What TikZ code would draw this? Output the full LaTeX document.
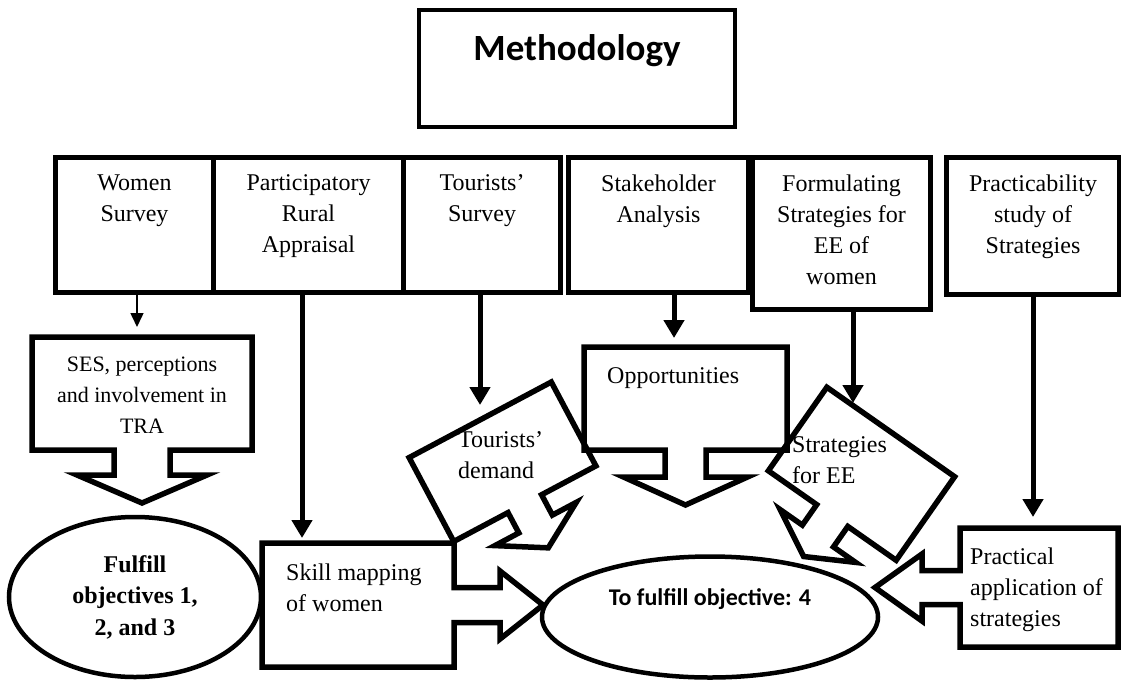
\documentclass[tikz,border=0pt]{standalone}
\usepackage{fontspec}
\setmainfont{Liberation Serif}
\newfontfamily\calibri{Carlito}
\usetikzlibrary{arrows.meta,shapes.geometric}

\newcommand{\arrowcallout}[6]{%
  \draw[cbox] (-#1/2,-#2/2) -- (#1/2,-#2/2) -- (#1/2,#2/2) -- (#3/2,#2/2)
    -- (#3/2,#2/2+#4) -- (#5/2,#2/2+#4) -- (0,#2/2+#4+#6) -- (-#5/2,#2/2+#4)
    -- (-#3/2,#2/2+#4) -- (-#3/2,#2/2) -- (-#1/2,#2/2) -- cycle;}

\tikzset{
  mbox/.style={draw, line width=5pt, inner sep=0pt, anchor=north west},
  toptext/.style={anchor=north, align=center, inner sep=0pt, yshift=-19.5pt},
  cbox/.style={draw, line width=5.5pt, miter limit=25},
  intext/.style={anchor=north west, align=left, inner sep=0pt},
  oval/.style={draw, ellipse, line width=4.5pt, inner sep=0pt},
  bigarr/.style={line width=5pt, -{Triangle[width=20pt,length=18pt]}},
  thinarr/.style={line width=1.5pt, -{Triangle[width=13pt,length=14pt]}}
}

\begin{document}
\begin{tikzpicture}[x=1pt, y=-1pt, execute at begin picture={\fontsize{24}{31}\selectfont}]
    \useasboundingbox (0,0) rectangle (1121,683);
    \node[mbox, line width=4pt, minimum width=316pt, minimum height=117pt,
      label={[toptext, yshift=-7pt, font=\calibri\bfseries\fontsize{37}{40}\selectfont]north:Methodology}] (meth) at (417,8) {};

    \node[mbox, minimum width=158pt, minimum height=135pt, label={[toptext]north:Women\\Survey}] (women) at (53,155) {};
    \node[mbox, minimum width=190pt, minimum height=135pt, label={[toptext]north:Participatory\\Rural\\Appraisal}] (pra) at (211,155) {};
    \node[mbox, minimum width=157pt, minimum height=135pt, label={[toptext]north:Tourists’\\Survey}] (tours) at (401,155) {};
    \node[mbox, minimum width=180pt, minimum height=135pt, label={[toptext]north:Stakeholder\\Analysis}] (stake) at (566,155) {};
    \node[mbox, minimum width=178pt, minimum height=152pt, label={[toptext]north:Formulating\\Strategies for\\EE of\\women}] (form) at (750,155) {};
    \node[mbox, minimum width=173pt, minimum height=137pt, label={[toptext]north:Practicability\\study of\\Strategies}] (pract) at (944,155) {};

    \begin{scope}[shift={(142,393.5)}]
      \arrowcallout{220}{113}{56}{25}{130}{28}
    \end{scope}
    \node[align=center, font=\fontsize{22}{31}\selectfont] (ses) at (142,395) {SES, perceptions\\and involvement in\\TRA};

    \begin{scope}[shift={(502.5,461.75)}, rotate=28]
      \arrowcallout{161}{95}{38}{23}{92}{27}
    \end{scope}
    \node[intext] (tdem) at (458,431) {Tourists’\\demand};

    \begin{scope}[shift={(685.5,398.5)}]
      \arrowcallout{203}{103}{41}{27}{124}{28}
    \end{scope}
    \node[intext] (opp) at (607,367) {Opportunities};

    \begin{scope}[shift={(861.5,473.75)}, rotate=-35]
      \arrowcallout{156}{102}{38}{25}{92}{25}
    \end{scope}
    \node[intext] (sfee) at (792,436) {Strategies\\for EE};

    \begin{scope}[shift={(358,605)}, rotate=90]
      \arrowcallout{124}{192}{35}{46}{68}{43}
    \end{scope}
    \node[intext] (skill) at (286,564) {Skill mapping\\of women};

    \begin{scope}[shift={(1039,587.5)}, rotate=-90]
      \arrowcallout{119}{158}{34}{38}{67}{47}
    \end{scope}
    \node[intext] (papp) at (970,548) {Practical\\application of\\strategies};

    \node[oval, minimum width=252pt, minimum height=160pt, align=center,
      font=\bfseries\fontsize{24}{31.5}\selectfont] (ful) at (135,597) {Fulfill\\objectives 1,\\2, and 3};
    \node[oval, minimum width=336pt, minimum height=121pt,
      label={[anchor=north, inner sep=0pt, yshift=-34.5pt, font=\calibri\bfseries]north:{To fulfill objective: 4}}] (obj4) at (710,617) {};

    \coordinate (wsin) at (137,327);
    \coordinate (pkin) at (302,538);
    \coordinate (tdin) at (480,405);
    \coordinate (opin) at (674,338);
    \coordinate (stin) at (853,403);
    \coordinate (prin) at (1033,517);
    \draw[thinarr] (wsin |- women.south) -- (wsin);
    \draw[bigarr] (pkin |- pra.south) -- (pkin);
    \draw[bigarr] (tdin |- tours.south) -- (tdin);
    \draw[bigarr] (opin |- stake.south) -- (opin);
    \draw[bigarr] (stin |- form.south) -- (stin);
    \draw[bigarr] (prin |- pract.south) -- (prin);
\end{tikzpicture}
\end{document}
